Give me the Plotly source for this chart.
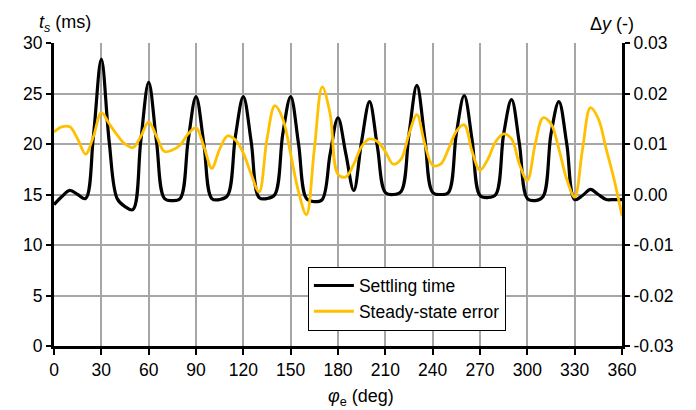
import plotly.graph_objects as go

angle_deg = list(range(0, 361, 5))

settling_time_ms = [
    14.0, 14.8, 15.4, 15.0, 14.6, 20.8, 28.4, 20.2, 14.6, 13.8,
    13.5, 20.3, 26.1, 20.2, 14.6, 14.4, 14.6, 20.3, 24.7, 20.0,
    14.6, 14.5, 14.9, 20.8, 24.7, 20.2, 14.7, 14.6, 15.0, 21.0,
    24.7, 20.0, 14.6, 14.3, 14.5, 19.0, 22.6, 19.0, 15.4, 20.3,
    24.2, 19.7, 15.2, 15.0, 15.3, 21.0, 25.8, 20.6, 15.2, 15.0,
    15.2, 21.0, 24.8, 20.4, 14.9, 14.7, 15.0, 21.0, 24.4, 20.0,
    14.6, 14.4, 14.8, 21.0, 24.2, 20.0, 14.5, 14.9, 15.5, 15.0,
    14.5, 14.5, 14.5,
]

steady_state_error = [
    0.0124, 0.0134, 0.0134, 0.0110, 0.0080, 0.0115, 0.0162, 0.0140, 0.0118, 0.0100,
    0.0093, 0.0115, 0.0144, 0.0115, 0.0085, 0.0088, 0.0098, 0.0120, 0.0132, 0.0095,
    0.0052, 0.0090, 0.0116, 0.0108, 0.0082, 0.0040, 0.0005, 0.0110, 0.0176, 0.0150,
    0.0080, 0.0005, -0.0040, 0.0090, 0.0213, 0.0160, 0.0040, 0.0035, 0.0060, 0.0095,
    0.0110, 0.0105, 0.0085, 0.0060, 0.0070, 0.0120, 0.0158, 0.0100, 0.0058, 0.0060,
    0.0090, 0.0125, 0.0138, 0.0085, 0.0048, 0.0070, 0.0105, 0.0120, 0.0110, 0.0060,
    0.0028, 0.0100, 0.0152, 0.0140, 0.0090, 0.0030, -0.0005, 0.0090, 0.0172, 0.0150,
    0.0090, 0.0030, -0.0042,
]

x_ticks = list(range(0, 361, 30))
y_left_ticks = list(range(0, 31, 5))
y_right_ticks = [-0.03, -0.02, -0.01, 0.0, 0.01, 0.02, 0.03]
y_right_labels = ["-0.03", "-0.02", "-0.01", "0.00", "0.01", "0.02", "0.03"]

FONT = "Liberation Sans, Arial, sans-serif"
GRID = "#a6a6a6"
TICK_SIZE = 17.5

fig = go.Figure()
fig.add_trace(go.Scatter(
    x=angle_deg, y=settling_time_ms, name="Settling time",
    mode="lines", line=dict(color="black", width=3.2, shape="spline", smoothing=1.0),
))
fig.add_trace(go.Scatter(
    x=angle_deg, y=steady_state_error, name="Steady-state error", yaxis="y2",
    mode="lines", line=dict(color="#FFC000", width=2.8, shape="spline", smoothing=1.0),
))

fig.update_layout(
    width=696, height=410,
    margin=dict(l=54, r=74, t=43, b=64),
    paper_bgcolor="white", plot_bgcolor="white",
    font=dict(family=FONT, size=TICK_SIZE, color="black"),
    showlegend=True,
    legend=dict(
        x=0.447, y=0.262, xanchor="left", yanchor="top",
        bgcolor="white", bordercolor="black", borderwidth=1,
        font=dict(size=TICK_SIZE), tracegroupgap=2, itemwidth=40,
    ),
    xaxis=dict(
        range=[0, 360], tickvals=x_ticks, ticktext=[str(v) for v in x_ticks],
        showgrid=True, gridcolor=GRID, gridwidth=1.5,
        showline=True, linecolor="black", linewidth=3,
        ticks="outside", ticklen=6, tickwidth=2, tickcolor="black",
        zeroline=False, tickfont=dict(size=TICK_SIZE),
    ),
    yaxis=dict(
        range=[0, 30], tickvals=y_left_ticks,
        showgrid=True, gridcolor=GRID, gridwidth=1.5,
        showline=True, linecolor="black", linewidth=3,
        ticks="outside", ticklen=5, tickwidth=2, tickcolor="black",
        zeroline=False, tickfont=dict(size=TICK_SIZE),
    ),
    yaxis2=dict(
        range=[-0.03, 0.03], tickvals=y_right_ticks, ticktext=y_right_labels,
        overlaying="y", side="right", showgrid=False,
        showline=True, linecolor="black", linewidth=3,
        ticks="outside", ticklen=5, tickwidth=2, tickcolor="black",
        zeroline=False, tickfont=dict(size=TICK_SIZE),
    ),
    annotations=[
        dict(text="<i>t</i><sub><i>s</i></sub> (ms)", xref="paper", yref="paper",
             x=0.02, y=1.0, xanchor="center", yanchor="bottom", yshift=6,
             showarrow=False, font=dict(size=18)),
        dict(text="Δ<i>y</i> (-)", xref="paper", yref="paper",
             x=0.982, y=1.0, xanchor="center", yanchor="bottom", yshift=7,
             showarrow=False, font=dict(size=18)),
        dict(text="<i>φ</i><sub>e</sub> (deg)", xref="paper", yref="paper",
             x=0.54, y=0.0, xanchor="center", yanchor="top", yshift=-38,
             showarrow=False, font=dict(size=18)),
    ],
)

fig.write_html(
    "out.html",
    config={"displayModeBar": False},
    post_script="document.body.style.margin='0';document.body.style.overflow='hidden';",
)
